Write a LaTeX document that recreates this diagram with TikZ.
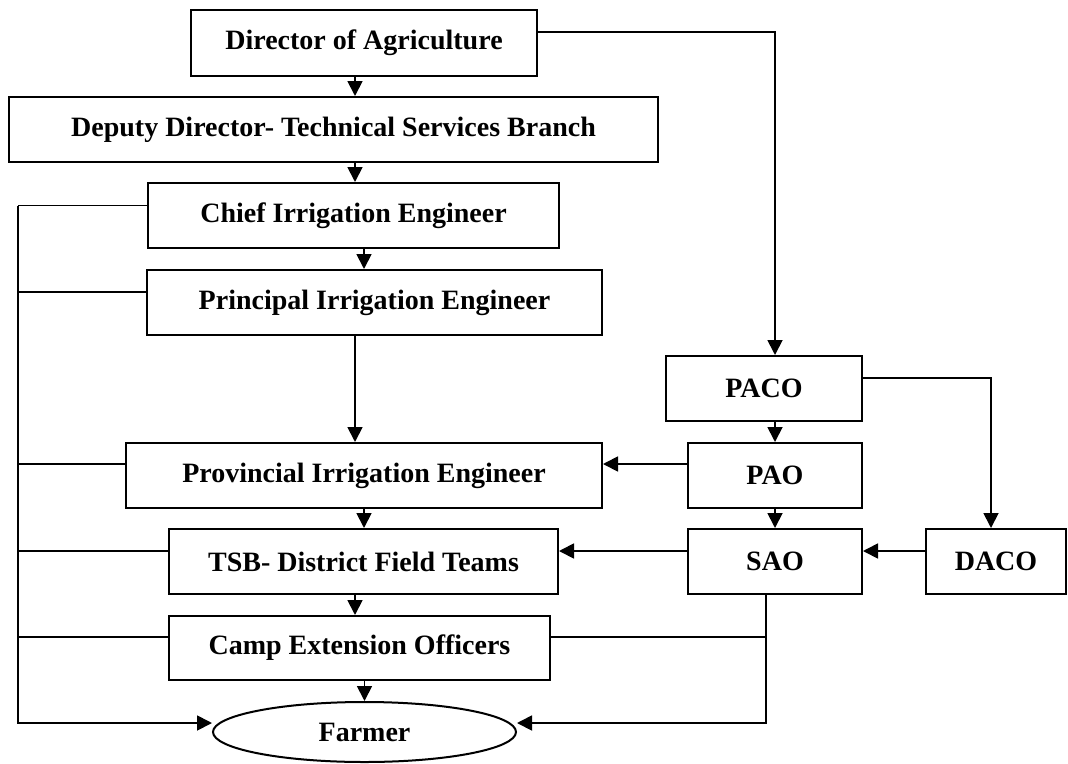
\documentclass[tikz,border=0pt]{standalone}
\usepackage{fontspec}
\setmainfont{Liberation Serif}
\usetikzlibrary{arrows.meta,shapes.geometric}
\begin{document}
\begin{tikzpicture}[x=1pt,y=-1pt,
  box/.style={draw,line width=2pt,rectangle,inner sep=0pt,
    font=\fontsize{28}{32}\selectfont\bfseries},
  oval/.style={draw,line width=2pt,ellipse,inner sep=0pt,
    font=\fontsize{28}{32}\selectfont\bfseries},
  ln/.style={line width=1.8pt},
  arr/.style={line width=1.8pt,-{Triangle[length=15pt,width=15pt]}}]
\useasboundingbox (0,0) rectangle (1068,763);
% nodes
\node[box,minimum width=346pt,minimum height=66pt] (dir) at (364,43) {Director of Agriculture};
\node[box,minimum width=649pt,minimum height=65pt] (dep) at (333.5,129.5) {Deputy Director- Technical Services Branch};
\node[box,minimum width=411pt,minimum height=65pt] (chief) at (353.5,215.5) {Chief Irrigation Engineer};
\node[box,minimum width=455pt,minimum height=65pt] (prin) at (374.5,302.5) {Principal Irrigation Engineer};
\node[box,minimum width=476pt,minimum height=65pt] (prov) at (364,475.5) {Provincial Irrigation Engineer};
\node[box,minimum width=389pt,minimum height=65pt] (tsb) at (363.5,561.5) {TSB- District Field Teams};
\node[box,minimum width=381pt,minimum height=64pt] (camp) at (359.5,648) {Camp Extension Officers};
\node[oval,minimum width=303pt,minimum height=60pt] (farmer) at (364.5,732) {Farmer};
\node[box,minimum width=196pt,minimum height=65pt] (paco) at (764,388.5) {PACO};
\node[box,minimum width=174pt,minimum height=65pt] (pao) at (775,475.5) {PAO};
\node[box,minimum width=174pt,minimum height=65pt] (sao) at (775,561.5) {SAO};
\node[box,minimum width=140pt,minimum height=65pt] (daco) at (996,561.5) {DACO};
% helper x positions
\coordinate (xa) at (355,0);
\coordinate (xb) at (364,0);
\coordinate (xc) at (775,0);
\coordinate (xd) at (991,0);
\coordinate (xe) at (766,0);
\coordinate (xl) at (18,0);
% central column arrows
\draw[arr] (dir.south -| xa) -- (dep.north -| xa);
\draw[arr] (dep.south -| xa) -- (chief.north -| xa);
\draw[arr] (chief.south -| xb) -- (prin.north -| xb);
\draw[arr] (prin.south -| xa) -- (prov.north -| xa);
\draw[arr] (prov.south -| xb) -- (tsb.north -| xb);
\draw[arr] (tsb.south -| xa) -- (camp.north -| xa);
\draw[arr] (camp.south -| farmer.north) -- (farmer.north);
% left bus
\coordinate (lc) at ([yshift=10pt]chief.west);
\coordinate (lp) at ([yshift=10.5pt]prin.west);
\coordinate (lv) at ([yshift=11.5pt]prov.west);
\coordinate (lt) at ([yshift=10.5pt]tsb.west);
\coordinate (lm) at ([yshift=11pt]camp.west);
\coordinate (fl) at ([yshift=9pt]farmer.west);
\coordinate (fr) at ([yshift=9pt]farmer.east);
\draw[ln] (lc) -- (lc -| xl);
\draw[ln] (lp) -- (lp -| xl);
\draw[ln] (lv) -- (lv -| xl);
\draw[ln] (lt) -- (lt -| xl);
\draw[ln] (lm) -- (lm -| xl);
\draw[arr] (lc -| xl) -- (fl -| xl) -- (fl);
% right side
\coordinate (dr) at ([yshift=11pt]dir.east);
\draw[arr] (dr) -- (dr -| xc) -- (paco.north -| xc);
\coordinate (pr) at ([yshift=10.5pt]paco.east);
\draw[arr] (pr) -- (pr -| xd) -- (daco.north -| xd);
\draw[arr] (paco.south -| xc) -- (pao.north);
\draw[arr] (pao.south) -- (sao.north);
\coordinate (pl) at ([yshift=11.5pt]pao.west);
\draw[arr] (pl) -- (pl -| prov.east);
\coordinate (sl) at ([yshift=10.5pt]sao.west);
\draw[arr] (sl) -- (sl -| tsb.east);
\coordinate (dl) at ([yshift=10.5pt]daco.west);
\draw[arr] (dl) -- (dl -| sao.east);
\coordinate (cr) at ([yshift=11pt]camp.east);
\draw[ln] (cr) -- (cr -| xe);
\draw[arr] (sao.south -| xe) -- (fr -| xe) -- (fr);
\end{tikzpicture}
\end{document}
